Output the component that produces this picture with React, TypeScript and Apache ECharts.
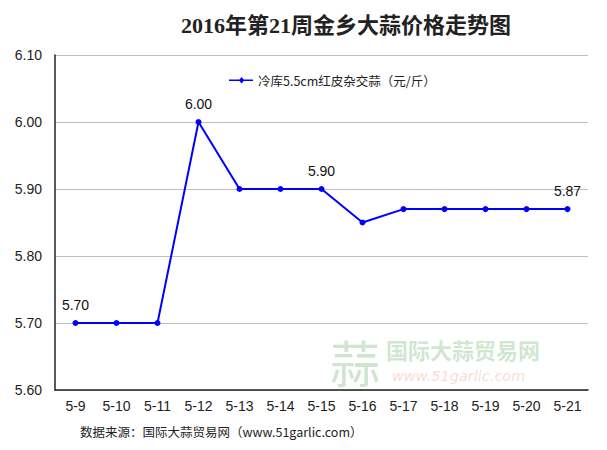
import React, { useEffect, useRef } from "react";
import * as echarts from "echarts";

const categories = ["5-9", "5-10", "5-11", "5-12", "5-13", "5-14", "5-15", "5-16", "5-17", "5-18", "5-19", "5-20", "5-21"];
const prices = [5.7, 5.7, 5.7, 6.0, 5.9, 5.9, 5.9, 5.85, 5.87, 5.87, 5.87, 5.87, 5.87];
const labeledIndexes = [0, 3, 6, 12];
const seriesName = "冷库5.5cm红皮杂交蒜（元/斤）";
const titleText = "2016年第21周金乡大蒜价格走势图";
const sourceText = "数据来源：国际大蒜贸易网（www.51garlic.com）";

export default function App() {
  const ref = useRef<HTMLDivElement>(null);
  useEffect(() => {
    document.body.style.margin = "0";
    if (!ref.current) return;
    const chart = echarts.init(ref.current, null, { renderer: "svg" });
    chart.setOption({
      animation: false,
      backgroundColor: "#ffffff",
      title: {
        text: titleText,
        left: 341,
        textAlign: "center",
        top: 9,
        textStyle: {
          fontFamily: "'Liberation Serif', 'Noto Sans CJK SC', serif",
          fontSize: 22,
          fontWeight: "bold",
          color: "#222",
        },
      },
      legend: {
        left: 224,
        top: 69,
        itemWidth: 24,
        itemHeight: 9,
        itemGap: 4,
        textStyle: { fontFamily: "'Noto Sans CJK SC', sans-serif", fontSize: 12.5, color: "#222" },
        data: [{ name: seriesName, icon: "path://M0,4.6 L40,4.6 L40,7.4 L0,7.4 Z M21,0.5 L25.5,6 L21,11.5 L16.5,6 Z" }],
      },
      grid: { left: 55, right: 19, top: 55, bottom: 60, containLabel: false },
      xAxis: {
        type: "category",
        data: categories,
        boundaryGap: true,
        axisLine: { lineStyle: { color: "#222", width: 1.5 } },
        axisTick: { show: false },
        axisLabel: {
          interval: 0,
          margin: 9,
          fontFamily: "'Liberation Sans', Arial, sans-serif",
          fontSize: 14,
          color: "#222",
        },
      },
      yAxis: {
        type: "value",
        min: 5.6,
        max: 6.1,
        interval: 0.1,
        axisLine: { show: true, lineStyle: { color: "#222", width: 1.5 } },
        axisTick: { show: false },
        splitLine: { lineStyle: { color: "#c0c0c0", width: 1 } },
        axisLabel: {
          margin: 13,
          formatter: (v: number) => v.toFixed(2),
          fontFamily: "'Liberation Sans', Arial, sans-serif",
          fontSize: 14,
          color: "#222",
        },
      },
      graphic: [
        {
          type: "text",
          left: 330,
          top: 336,
          z: 0,
          style: { text: "蒜", fontSize: 50, fontFamily: "'Noto Sans CJK SC'", fill: "rgba(120,180,120,0.35)" },
        },
        {
          type: "text",
          left: 386,
          top: 338,
          z: 0,
          style: { text: "国际大蒜贸易网", fontSize: 22, lineHeight: 22, fontWeight: "bold", fontFamily: "'Noto Sans CJK SC'", fill: "rgba(120,185,120,0.35)" },
        },
        {
          type: "text",
          left: 392,
          top: 368,
          z: 0,
          style: { text: "www.51garlic.com", fontSize: 14.5, lineHeight: 14.5, fontStyle: "italic", fontFamily: "'DejaVu Sans'", fill: "rgba(235,150,120,0.35)" },
        },
        {
          type: "text",
          left: 80,
          top: 425,
          style: { text: sourceText, fontSize: 12.5, fontFamily: "'Noto Sans CJK SC', sans-serif", fill: "#222" },
        },
      ],
      series: [
        {
          name: seriesName,
          type: "line",
          data: prices.map((v, i) => ({
            value: v,
            label: {
              show: labeledIndexes.includes(i),
              position: "top",
              distance: 8,
              formatter: (p: any) => Number(p.value).toFixed(2),
              fontFamily: "'Liberation Sans', Arial, sans-serif",
              fontSize: 14,
              color: "#111",
            },
          })),
          symbol: "circle",
          symbolSize: 6,
          lineStyle: { color: "#0000ff", width: 2 },
          itemStyle: { color: "#0000ff" },
          z: 5,
        },
      ],
    });
    return () => chart.dispose();
  }, []);
  return <div ref={ref} style={{ width: 607, height: 450 }} />;
}
